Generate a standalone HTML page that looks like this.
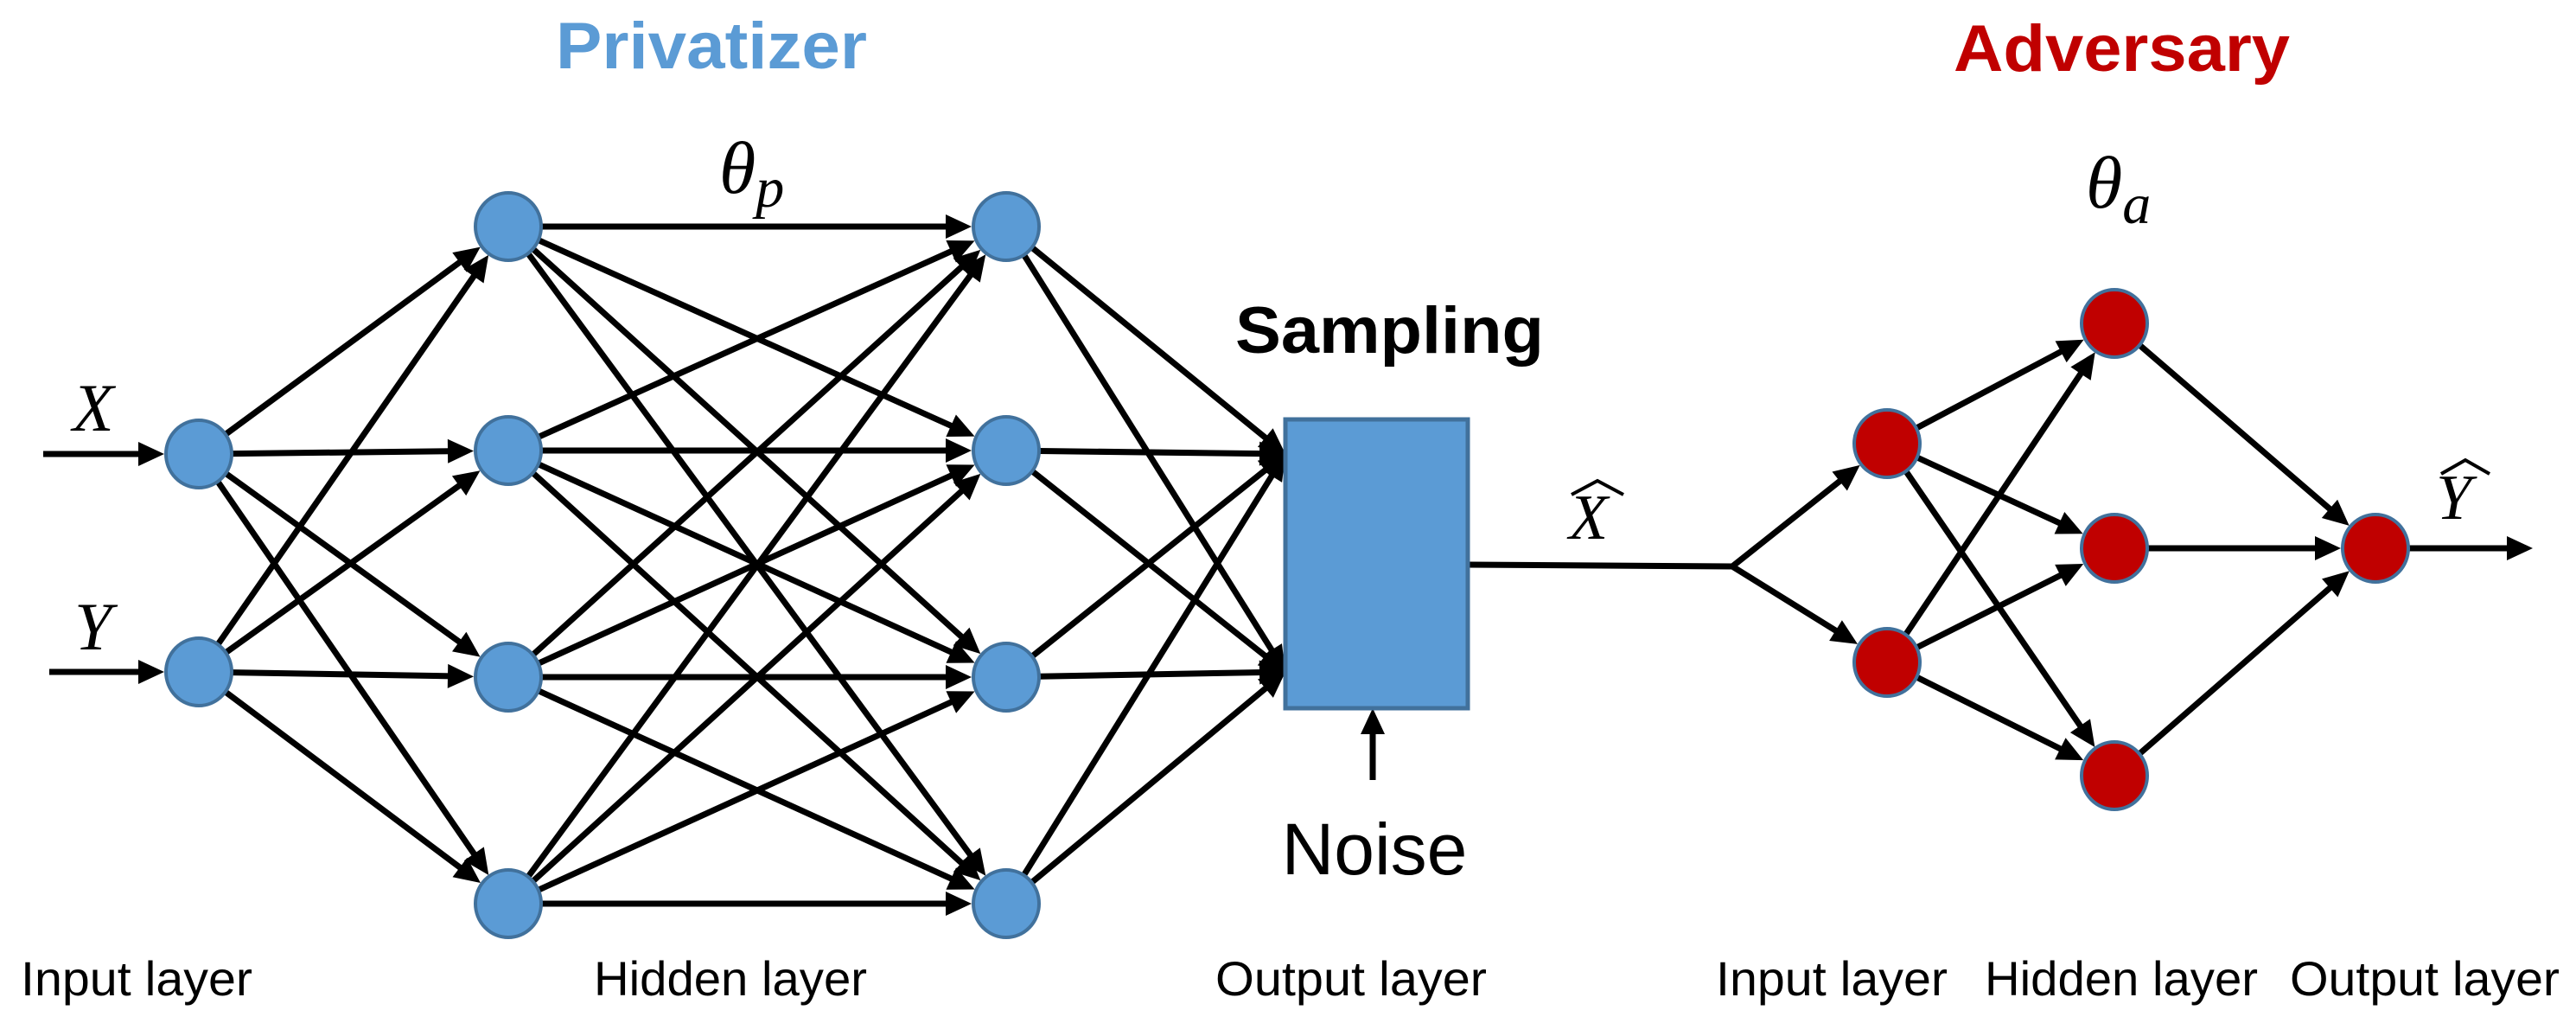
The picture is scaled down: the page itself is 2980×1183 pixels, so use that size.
<!DOCTYPE html>
<html><head><meta charset="utf-8"><style>
html,body{margin:0;padding:0;background:#fff;}
svg{display:block;}
.lbl{font-family:"Liberation Sans",sans-serif;font-size:56px;fill:#000;}
.m{font-family:"Liberation Serif",serif;font-style:italic;fill:#000;}
</style></head><body>
<svg id="s" width="2980" height="1183" viewBox="0 0 2980 1183" xmlns="http://www.w3.org/2000/svg">
<g id="edges" stroke="#000" stroke-width="7" fill="none"></g>
<g id="heads" fill="#000"></g>
<rect x="1487" y="485" width="211" height="334" fill="#5b9bd5" stroke="#41719c" stroke-width="5"/>
<g id="nodes"></g>
<text x="643" y="79" font-family="Liberation Sans,sans-serif" font-weight="bold" font-size="76" fill="#5b9bd5" textLength="360" lengthAdjust="spacingAndGlyphs">Privatizer</text>
<text x="2260" y="82" font-family="Liberation Sans,sans-serif" font-weight="bold" font-size="76" fill="#c00000" textLength="389" lengthAdjust="spacingAndGlyphs">Adversary</text>
<text x="1429" y="408" font-family="Liberation Sans,sans-serif" font-weight="bold" font-size="76" fill="#000" textLength="357" lengthAdjust="spacingAndGlyphs">Sampling</text>
<text x="1590" y="1011" text-anchor="middle" font-family="Liberation Sans,sans-serif" font-size="84" fill="#000">Noise</text>
<text class="m" x="832" y="223" font-size="86">θ<tspan font-size="66" dy="16">p</tspan></text>
<text class="m" x="2413" y="240" font-size="86">θ<tspan font-size="66" dy="18">a</tspan></text>
<text class="m" x="84" y="498" font-size="78">X</text>
<text class="m" x="86" y="751" font-size="78">Y</text>
<text class="m" x="1815" y="623" font-size="74">X</text>
<polyline points="1818,572 1848,556 1878,572" fill="none" stroke="#000" stroke-width="4"/>
<text class="m" x="2818" y="600" font-size="74">Y</text>
<polyline points="2824,548 2852,532 2880,548" fill="none" stroke="#000" stroke-width="4"/>
<text class="lbl" x="24" y="1151" textLength="268" lengthAdjust="spacingAndGlyphs">Input layer</text>
<text class="lbl" x="687" y="1151" textLength="316" lengthAdjust="spacingAndGlyphs">Hidden layer</text>
<text class="lbl" x="1406" y="1151" textLength="314" lengthAdjust="spacingAndGlyphs">Output layer</text>
<text class="lbl" x="1985" y="1151" textLength="268" lengthAdjust="spacingAndGlyphs">Input layer</text>
<text class="lbl" x="2296" y="1151" textLength="316" lengthAdjust="spacingAndGlyphs">Hidden layer</text>
<text class="lbl" x="2649" y="1151" textLength="312" lengthAdjust="spacingAndGlyphs">Output layer</text>
</svg>
<script>
var NS="http://www.w3.org/2000/svg";
var E=document.getElementById('edges'),H=document.getElementById('heads'),N=document.getElementById('nodes');
var R=38;
function line(x1,y1,x2,y2){var l=document.createElementNS(NS,'line');l.setAttribute('x1',x1);l.setAttribute('y1',y1);l.setAttribute('x2',x2);l.setAttribute('y2',y2);E.appendChild(l);}
function arrow(x1,y1,x2,y2,r1,r2){
 var dx=x2-x1,dy=y2-y1,d=Math.sqrt(dx*dx+dy*dy),ux=dx/d,uy=dy/d;
 var sx=x1+ux*r1,sy=y1+uy*r1,ex=x2-ux*r2,ey=y2-uy*r2;
 var L=30,W=14;
 var bx=ex-ux*L,by=ey-uy*L;
 line(sx,sy,bx+ux*4,by+uy*4);
 var p=document.createElementNS(NS,'polygon');
 p.setAttribute('points',ex+','+ey+' '+(bx-uy*W)+','+(by+ux*W)+' '+(bx+uy*W)+','+(by-ux*W));
 H.appendChild(p);
}
function node(x,y,c){var e=document.createElementNS(NS,'ellipse');e.setAttribute('cx',x);e.setAttribute('cy',y);e.setAttribute('rx',R);e.setAttribute('ry',R+1);e.setAttribute('fill',c);e.setAttribute('stroke','#41719c');e.setAttribute('stroke-width',4);N.appendChild(e);}
var inp=[[230,525],[230,777]];
var hy=[262,521,783,1045];
var h1=hy.map(function(y){return[588,y]}),h2=hy.map(function(y){return[1164,y]});
var box=[[1487,525],[1487,777]];
arrow(50,525,230,525,0,R+2);
arrow(57,777,230,777,0,R+2);
inp.forEach(function(a){h1.forEach(function(b){arrow(a[0],a[1],b[0],b[1],R,R+2);});});
h1.forEach(function(a){h2.forEach(function(b){arrow(a[0],a[1],b[0],b[1],R,R+2);});});
h2.forEach(function(a){box.forEach(function(b){arrow(a[0],a[1],b[0],b[1],R,0);});});
arrow(1588,902,1588,819,0,0);
line(1698,653,2004,655);
var ai=[[2183,513],[2183,766]];
ai.forEach(function(b){arrow(2004,655,b[0],b[1],0,R+2);});
var ah=[[2446,374],[2446,634],[2446,897]];
var ao=[2748,634];
ai.forEach(function(a){ah.forEach(function(b){arrow(a[0],a[1],b[0],b[1],R,R+2);});});
ah.forEach(function(a){arrow(a[0],a[1],ao[0],ao[1],R,R+2);});
arrow(2748,634,2930,634,R,0);
inp.concat(h1,h2).forEach(function(p){node(p[0],p[1],'#5b9bd5');});
ai.concat(ah,[ao]).forEach(function(p){node(p[0],p[1],'#c00000');});
</script>
</body></html>
